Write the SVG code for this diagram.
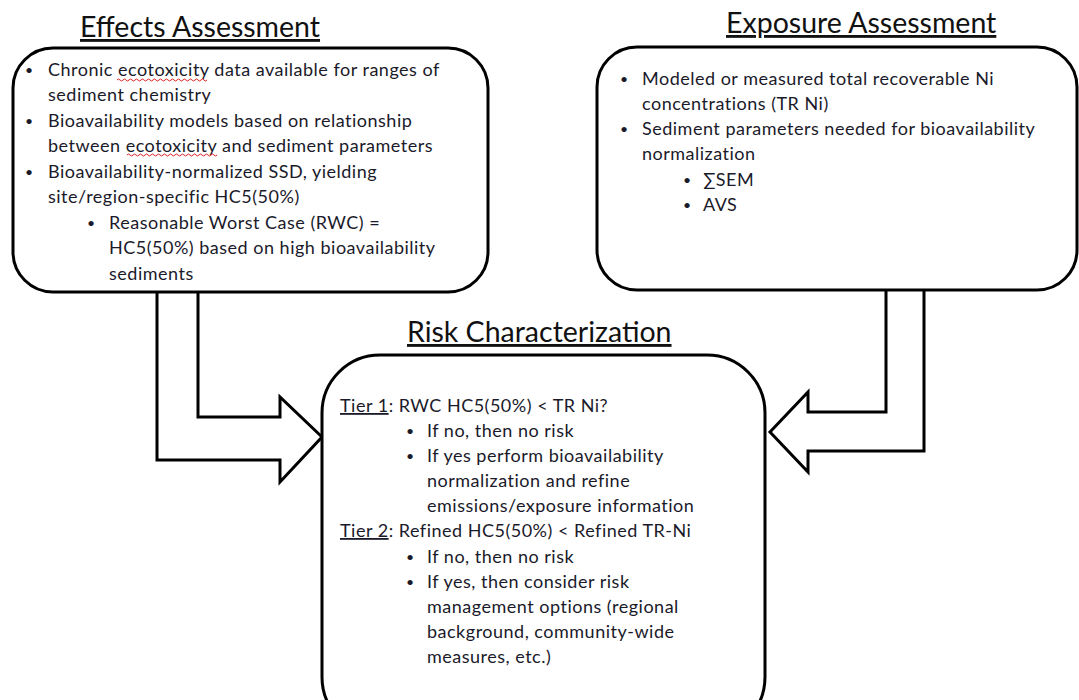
<svg xmlns="http://www.w3.org/2000/svg" width="1079" height="700" viewBox="0 0 1079 700">
<style>
.box{fill:#fff;stroke:#000;stroke-width:3}
.arr{fill:#fff;stroke:#000;stroke-width:3;stroke-linejoin:miter}
.title{font-family:Lato,"Liberation Sans",sans-serif;font-size:28.5px;fill:#111;text-decoration:underline}
.t{font-family:Lato,"Liberation Sans",sans-serif;font-size:18px;letter-spacing:0.5px;fill:#1a1a2a}
.b{font-size:14px}
.sq{fill:none;stroke:#e02020;stroke-width:1}
</style>
<rect width="1079" height="700" fill="#fff"/>
<g id="connectors">
<path class="arr" d="M157,292 L157,460 L280,460 L280,482 L322,437 L280,397 L280,417 L198,417 L198,292"/>
<path class="arr" d="M886,290 L886,412 L808,412 L808,392 L770,432 L808,472 L808,451 L924,451 L924,290"/>
</g>
<g id="effects">
<text class="title" x="80" y="37">Effects Assessment</text>
<rect class="box" x="13" y="48" width="475" height="244" rx="40"/>
<g class="t">
<text class="b" x="25" y="75">•</text><text x="48" y="76">Chronic ecotoxicity data available for ranges of</text>
<text x="48" y="101">sediment chemistry</text>
<text class="b" x="25" y="126">•</text><text x="48" y="127">Bioavailability models based on relationship</text>
<text x="48" y="152">between ecotoxicity and sediment parameters</text>
<text class="b" x="25" y="177">•</text><text x="48" y="178">Bioavailability-normalized SSD, yielding</text>
<text x="48" y="203">site/region-specific HC5(50%)</text>
<text class="b" x="87" y="228">•</text><text x="109" y="229">Reasonable Worst Case (RWC) =</text>
<text x="109" y="254">HC5(50%) based on high bioavailability</text>
<text x="109" y="280">sediments</text>
</g>
<path class="sq" d="M117,80 q1.5,-2 3,0 t3,0 t3,0 t3,0 t3,0 t3,0 t3,0 t3,0 t3,0 t3,0 t3,0 t3,0 t3,0 t3,0 t3,0 t3,0 t3,0 t3,0 t3,0 t3,0 t3,0 t3,0 t3,0 t3,0 t3,0 t3,0 t3,0 t3,0 t3,0 t3,0"/>
<path class="sq" d="M127,155 q1.5,-2 3,0 t3,0 t3,0 t3,0 t3,0 t3,0 t3,0 t3,0 t3,0 t3,0 t3,0 t3,0 t3,0 t3,0 t3,0 t3,0 t3,0 t3,0 t3,0 t3,0 t3,0 t3,0 t3,0 t3,0 t3,0 t3,0 t3,0 t3,0 t3,0 t3,0"/>
</g>
<g id="exposure">
<text class="title" x="726" y="33">Exposure Assessment</text>
<rect class="box" x="597" y="47" width="480" height="243" rx="40"/>
<g class="t">
<text class="b" x="620" y="84">•</text><text x="642" y="85">Modeled or measured total recoverable Ni</text>
<text x="642" y="110">concentrations (TR Ni)</text>
<text class="b" x="620" y="134">•</text><text x="642" y="135">Sediment parameters needed for bioavailability</text>
<text x="642" y="160">normalization</text>
<text class="b" x="683" y="185">•</text><text x="703" y="186">∑SEM</text>
<text class="b" x="683" y="210">•</text><text x="703" y="211">AVS</text>
</g>
</g>
<g id="risk">
<text class="title" x="407" y="342">Risk Characterization</text>
<rect class="box" x="322" y="355" width="443" height="380" rx="58"/>
<g class="t">
<text x="340" y="412"><tspan text-decoration="underline">Tier 1</tspan>: RWC HC5(50%) &lt; TR Ni?</text>
<text class="b" x="406" y="436">•</text><text x="427" y="437">If no, then no risk</text>
<text class="b" x="406" y="461">•</text><text x="427" y="462">If yes perform bioavailability</text>
<text x="427" y="487">normalization and refine</text>
<text x="427" y="512">emissions/exposure information</text>
<text x="340" y="537"><tspan text-decoration="underline">Tier 2</tspan>: Refined HC5(50%) &lt; Refined TR-Ni</text>
<text class="b" x="406" y="562">•</text><text x="427" y="563">If no, then no risk</text>
<text class="b" x="406" y="587">•</text><text x="427" y="588">If yes, then consider risk</text>
<text x="427" y="613">management options (regional</text>
<text x="427" y="638">background, community-wide</text>
<text x="427" y="663">measures, etc.)</text>
</g>
</g>
</svg>
